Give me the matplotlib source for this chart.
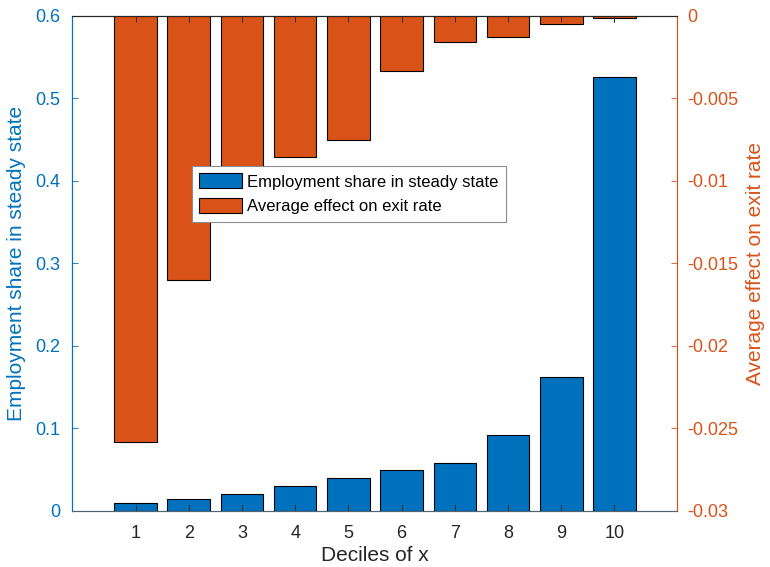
import matplotlib
matplotlib.use("Agg")
import matplotlib.pyplot as plt
from matplotlib.patches import Patch

plt.rcParams['font.family'] = ['Liberation Sans', 'DejaVu Sans']

deciles = [1, 2, 3, 4, 5, 6, 7, 8, 9, 10]
emp_share = [0.0095, 0.0147, 0.0203, 0.0297, 0.0394, 0.0491, 0.0584, 0.0916, 0.1616, 0.5255]
exit_effect = [-0.02585, -0.0160, -0.0105, -0.00854, -0.00755, -0.00334, -0.00160, -0.00126, -0.00047, -0.00012]

left_ticks = [0, 0.1, 0.2, 0.3, 0.4, 0.5, 0.6]
left_labels = ['0', '0.1', '0.2', '0.3', '0.4', '0.5', '0.6']
right_ticks = [-0.03, -0.025, -0.02, -0.015, -0.01, -0.005, 0]
right_labels = ['-0.03', '-0.025', '-0.02', '-0.015', '-0.01', '-0.005', '0']

blue = '#0072BD'
orange = '#D95319'
dark = '#262626'

fig = plt.figure(figsize=(7.7, 5.67), dpi=100)
ax1 = fig.add_axes([0.0931, 0.0993, 0.7865, 0.8725])
ax2 = ax1.twinx()

ax1.bar(deciles, emp_share, width=0.8, color=blue, edgecolor='black', linewidth=0.8)
ax2.bar(deciles, exit_effect, width=0.8, color=orange, edgecolor='black', linewidth=0.8)

ax1.set_xlim(-0.2, 11.18)
ax1.set_ylim(0, 0.6)
ax2.set_ylim(-0.03, 0)

ax1.set_xticks(deciles)
ax1.set_xticklabels([str(d) for d in deciles])
ax1.set_yticks(left_ticks)
ax1.set_yticklabels(left_labels)
ax2.set_yticks(right_ticks)
ax2.set_yticklabels(right_labels)

ax1.tick_params(axis='x', direction='in', top=True, bottom=True, length=4, width=0.6,
                colors=dark, labelsize=13, pad=10)
ax1.tick_params(axis='y', direction='in', left=True, right=False, length=4, width=0.6,
                colors=blue, labelsize=13, pad=8)
ax2.xaxis.set_visible(True)
ax2.tick_params(axis='x', direction='in', top=True, bottom=True, labelbottom=False,
                length=4, width=0.6, colors=dark)
ax2.tick_params(axis='y', direction='in', right=True, left=False, length=4, width=0.6,
                colors=orange, labelsize=13, pad=7)

for ax in (ax1, ax2):
    ax.spines['left'].set_color(blue)
    ax.spines['right'].set_color(orange)
    ax.spines['top'].set_color(dark)
    ax.spines['bottom'].set_color('#4f6475')
    for s in ax.spines.values():
        s.set_linewidth(0.8)

ax1.set_xlabel('Deciles of x', fontsize=15, color=dark, labelpad=3)
ax1.set_ylabel('Employment share in steady state', fontsize=15, color=blue, labelpad=7)
ax2.set_ylabel('Average effect on exit rate', fontsize=15, color=orange, labelpad=6)

handles = [Patch(facecolor=blue, edgecolor='black', linewidth=0.8),
           Patch(facecolor=orange, edgecolor='black', linewidth=0.8)]
leg = ax2.legend(handles, ['Employment share in steady state', 'Average effect on exit rate'],
                 loc='upper left', bbox_to_anchor=(0.198, 0.697), borderaxespad=0,
                 fontsize=12, fancybox=False, framealpha=1, edgecolor='#8c8c8c',
                 handlelength=2.6, handleheight=1.0, handletextpad=0.3,
                 labelspacing=0.5, borderpad=0.45)
leg.get_frame().set_linewidth(0.8)

fig.savefig('out.png', dpi=100)
